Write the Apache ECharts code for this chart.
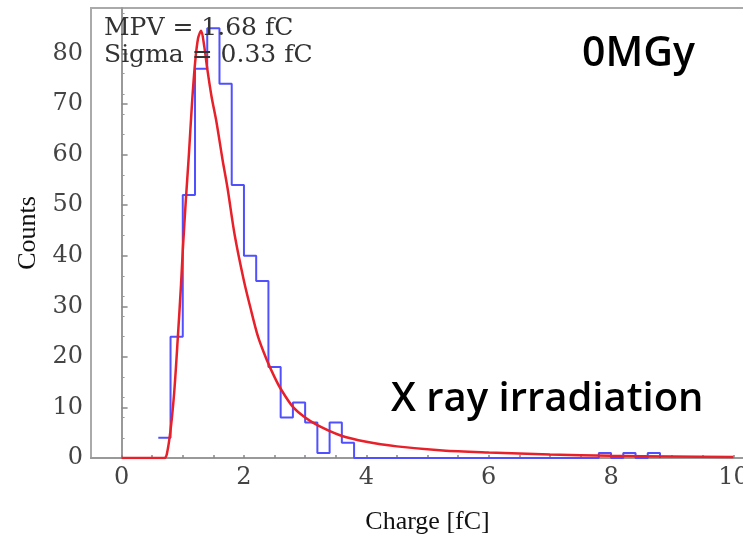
<!DOCTYPE html>
<html>
<head>
<meta charset="utf-8">
<script src="https://cdn.jsdelivr.net/npm/echarts@6/dist/echarts.min.js"></script>
<style>
html,body{margin:0;padding:0;background:#fff;}
#chart{width:743px;height:537px;}
</style>
</head>
<body>
<div id="chart"></div>
<script>
// Histogram bins (left edges, width 0.2 fC) and counts
const binWidth = 0.2;
const binLeft = [0.6, 0.8, 1.0, 1.2, 1.4, 1.6, 1.8, 2.0, 2.2, 2.4, 2.6, 2.8, 3.0, 3.2, 3.4, 3.6, 7.8, 8.2, 8.6];
const binCounts = [4, 24, 52, 77, 85, 74, 54, 40, 35, 18, 8, 11, 7, 1, 7, 3, 1, 1, 1];

// Fitted curve points
const fitX = [0, 0.7, 0.74, 0.8, 0.86, 0.92, 0.97, 1.0, 1.05, 1.1, 1.15, 1.2, 1.25, 1.3, 1.35, 1.4, 1.47, 1.55, 1.65, 1.73, 1.85, 2.0, 2.1, 2.23, 2.37, 2.5, 2.6, 2.8, 3.0, 3.2, 3.57, 4.0, 4.5, 5.25, 6.0, 7.0, 8.0, 9.0, 10.0];
const fitY = [0, 0, 0.8, 5.5, 13, 24, 34, 41, 51, 60, 70, 78, 83, 84.5, 81.5, 77, 71.5, 66.5, 59, 53.5, 44, 35, 30, 24, 19.5, 16, 13.7, 10.1, 8, 6.5, 4.5, 3.2, 2.3, 1.5, 1.1, 0.7, 0.45, 0.3, 0.2];

// Tick labels
const xLabels = [0, 2, 4, 6, 8, 10];
const xTicks = [0,0.5,1,1.5,2,2.5,3,3.5,4,4.5,5,5.5,6,6.5,7,7.5,8,8.5,9,9.5,10];
const yLabels = [0, 10, 20, 30, 40, 50, 60, 70, 80];

// Build step data for histogram
const histData = [];
for (let i = 0; i < binLeft.length; i++) {
  const l = binLeft[i];
  const prevEnd = i > 0 ? +(binLeft[i-1] + binWidth).toFixed(3) : null;
  if (prevEnd !== null && Math.abs(prevEnd - l) > 1e-6) {
    histData.push([prevEnd, 0]);
  }
  histData.push([l, binCounts[i]]);
}
histData.push([+(binLeft[binLeft.length-1] + binWidth).toFixed(3), 0]);

const fitData = fitX.map((x, i) => [x, fitY[i]]);

const chart = echarts.init(document.getElementById('chart'));
const serif = 'DejaVu Serif';
chart.setOption({
  animation: false,
  backgroundColor: '#fff',
  grid: {
    left: 91, top: 8, right: -21, bottom: 79,
    outerBoundsMode: 'none', containLabel: false,
    show: true, borderColor: '#aaa', borderWidth: 2, backgroundColor: 'transparent'
  },
  xAxis: {
    type: 'value', min: -0.5, max: 10.5,
    name: 'Charge [fC]', nameLocation: 'middle', nameGap: 51,
    nameTextStyle: {fontFamily: 'Liberation Serif', fontSize: 26, color: '#111'},
    axisLine: {show: true, onZero: false, lineStyle: {color: '#999', width: 2}},
    axisTick: {show: true, inside: true, length: 3, customValues: xTicks, lineStyle: {color: '#888', width: 1.5}},
    axisLabel: {customValues: xLabels, fontFamily: serif, fontSize: 24, color: '#444', margin: 8},
    splitLine: {show: false}
  },
  yAxis: {
    type: 'value', min: 0, max: 89,
    name: 'Counts', nameLocation: 'middle', nameGap: 47, nameRotate: 90,
    nameTextStyle: {fontFamily: 'Liberation Serif', fontSize: 26, color: '#111'},
    axisLine: {show: true, lineStyle: {color: '#999', width: 2}},
    axisTick: {show: true, inside: true, length: 6, customValues: yLabels, lineStyle: {color: '#888', width: 1.5}},
    minorTick: {show: true, splitNumber: 5, length: 3, lineStyle: {color: '#999'}},
    axisLabel: {customValues: yLabels, fontFamily: serif, fontSize: 24, color: '#444', margin: 8},
    splitLine: {show: false}
  },
  series: [
    {
      type: 'line', data: histData, step: 'end', symbol: 'none',
      lineStyle: {color: '#5050ff', width: 2}, z: 2
    },
    {
      type: 'line', data: fitData, smooth: 0.3, symbol: 'none',
      lineStyle: {color: '#e8202a', width: 2.5}, z: 3
    }
  ],
  graphic: [
    {type: 'text', left: 104, top: 16, z: 10, style: {text: 'MPV = 1.68 fC', fontFamily: serif, fontSize: 25, fill: '#333'}},
    {type: 'text', left: 104, top: 43, z: 10, style: {text: 'Sigma = 0.33 fC', fontFamily: serif, fontSize: 25, fill: '#333'}},
    {type: 'text', left: 582, top: 34, z: 10, style: {text: '0MGy', fontFamily: 'Open Sans', fontWeight: 600, fontSize: 41, fill: '#000'}},
    {type: 'text', left: 391, top: 380, z: 10, style: {text: 'X ray irradiation', fontFamily: 'Open Sans', fontWeight: 600, fontSize: 40, fill: '#000'}}
  ]
});
</script>
</body>
</html>
